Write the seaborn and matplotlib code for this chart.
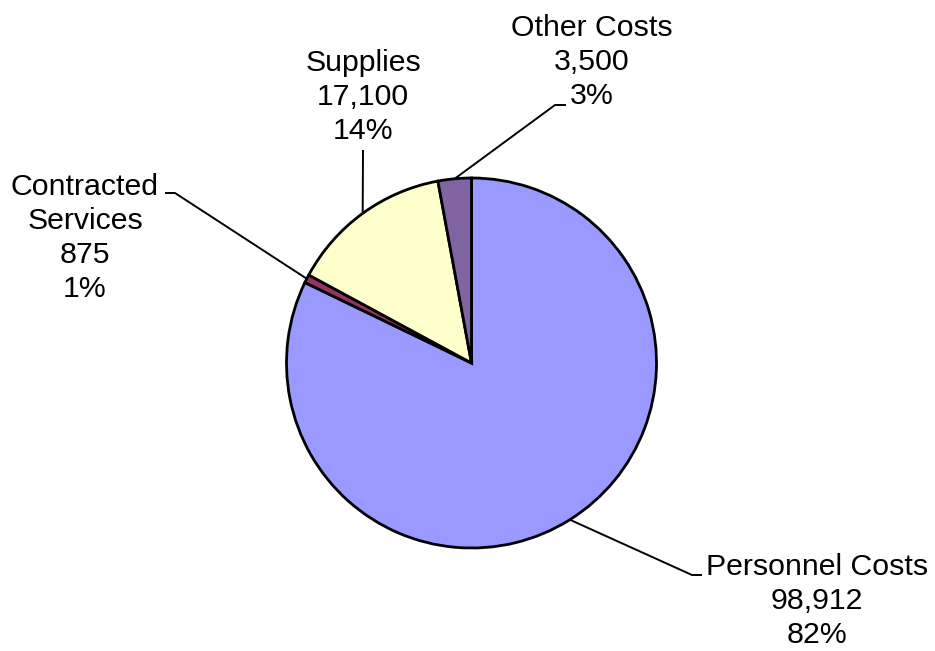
import numpy as np
import matplotlib
matplotlib.use("Agg")
import matplotlib.pyplot as plt
import seaborn as sns

# Budget breakdown by cost category
categories = ["Personnel Costs", "Contracted Services", "Supplies", "Other Costs"]
amounts = [98912, 875, 17100, 3500]
label_names = ["Personnel Costs", "Contracted\nServices", "Supplies", "Other Costs"]
colors = ["#9999FF", "#993366", "#FFFFCC", "#8064A2"]

sns.set_theme(style="white")
plt.rcParams["font.family"] = ["Liberation Sans", "DejaVu Sans"]

W, H = 935, 651
fig = plt.figure(figsize=(W / 100, H / 100), dpi=100)
ax = fig.add_axes([0, 0, 1, 1])

cx, cy, r = 471.5, H - 363, 185
wedges, _ = ax.pie(
    amounts,
    colors=colors,
    startangle=90,
    counterclock=False,
    center=(cx, cy),
    radius=r,
    wedgeprops=dict(edgecolor="black", linewidth=2.0),
)
ax.set_xlim(0, W)
ax.set_ylim(0, H)
ax.set_aspect("equal")
ax.axis("off")

total = sum(amounts)

# label placement (pixel coords, y from top): text centre, leader elbow, leader end
layout = {
    "Personnel Costs": dict(text=(817, 601), elbow=(692, 575), end=(702, 575)),
    "Contracted Services": dict(text=(85, 238), elbow=(175, 193), end=(165, 193)),
    "Supplies": dict(text=(363, 97), elbow=(363, 150), end=(363, 150)),
    "Other Costs": dict(text=(592, 62), elbow=(555, 105), end=(566, 105)),
}

for w, cat, name, val in zip(wedges, categories, label_names, amounts):
    mid = np.deg2rad((w.theta1 + w.theta2) / 2)
    ex, ey = cx + r * np.cos(mid), cy + r * np.sin(mid)
    lay = layout[cat]
    bx, by = lay["elbow"]
    fx, fy = lay["end"]
    ax.plot([ex, bx, fx], [ey, H - by, H - fy], color="black", lw=1.4,
            solid_capstyle="butt", zorder=1)
    pct = round(val / total * 100)
    tx, ty = lay["text"]
    ax.text(tx, H - ty, f"{name}\n{val:,}\n{pct}%", ha="center", va="center",
            fontsize=21.8, linespacing=1.28, color="black")

fig.savefig("out.png", dpi=100)
